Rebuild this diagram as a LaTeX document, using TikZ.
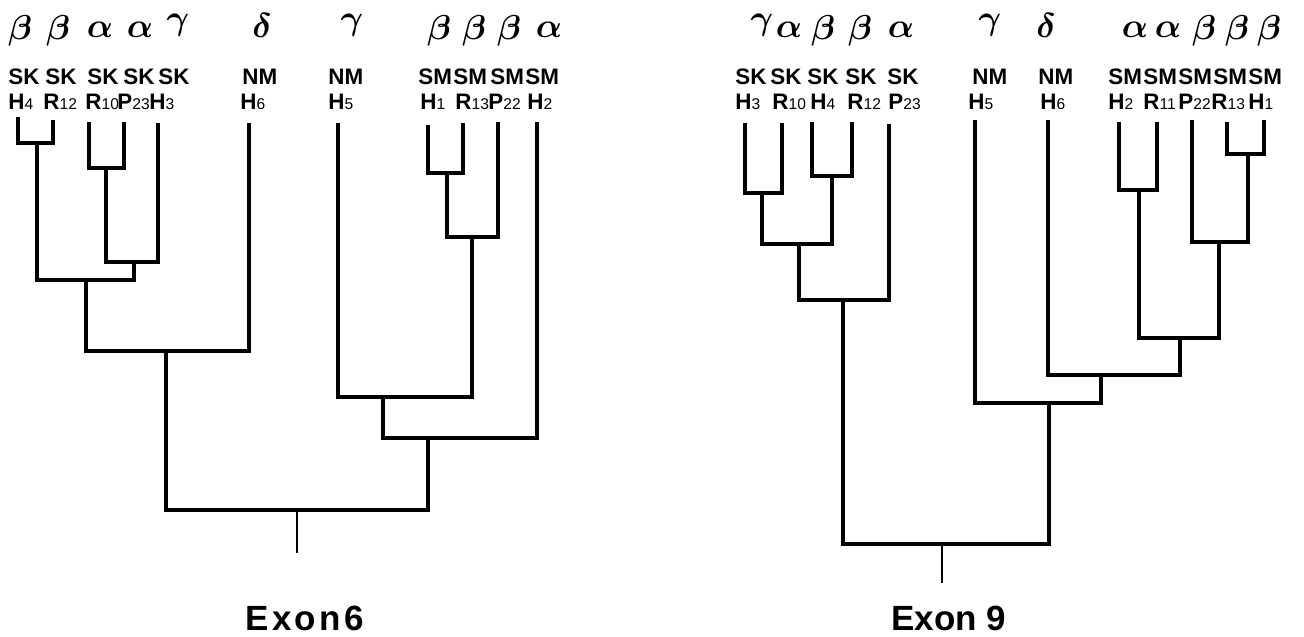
\documentclass[tikz,border=0pt]{standalone}
\usepackage{fontspec}
\setmainfont{Liberation Sans}

% Greek class letters above the leaves
\newcommand\grA{$\alpha$}
\newcommand\grB{\raisebox{-1pt}{$\beta$}}
\newcommand\grG{\raisebox{4pt}{$\gamma$}}
\newcommand\grD{$\delta$}
% clone identifier: bold letter with a small plain number
\newcommand\lab[2]{#1{\fontsize{7.8}{8}\selectfont\mdseries #2}}

% one leaf: name, x, top of leaf line, greek, greek x, group, group x, id, id x
\newcommand\mleaf[9]{%
  \coordinate (#1) at (#2,#3);
  \node[greek] (#1-g) at (#5,38) {#4};
  \node[grp] (#1-s) at (#7,85) {#6};
  \node[grp] (#1-i) at (#9,110) {#8};
}

\begin{document}
\begin{tikzpicture}[x=0.5pt,y=-0.5pt,
  greek/.style={anchor=base,inner sep=0pt,font=\fontsize{18}{18}\selectfont\boldmath},
  grp/.style={anchor=base west,inner sep=0pt,font=\fontsize{11.2}{12}\selectfont\bfseries},
  exon/.style={anchor=base,inner sep=0pt,font=\fontsize{17.5}{18}\selectfont\bfseries},
  tree/.style={line width=1.7pt},
  stem/.style={line width=1.3pt}]
\useasboundingbox (0,0) rectangle (1304,636);

% ---------------- Exon 6 ----------------
\mleaf{a-H4}{18}{117}{\grB}{20}{SK}{8}{\lab{H}{4}}{8}
\mleaf{a-R12}{53}{120}{\grB}{58}{SK}{45}{\lab{R}{12}}{43}
\mleaf{a-R10}{89}{122}{\grA}{100}{SK}{87}{\lab{R}{10}}{85}
\mleaf{a-P23}{124}{122}{\grA}{140}{SK}{123}{\lab{P}{23}}{117}
\mleaf{a-H3}{158}{123}{\grG}{178}{SK}{158}{\lab{H}{3}}{149}
\mleaf{a-H6}{249}{123}{\grD}{262}{NM}{242}{\lab{H}{6}}{240}
\mleaf{a-H5}{338}{123}{\grG}{352}{NM}{328}{\lab{H}{5}}{328}
\mleaf{a-H1}{428}{125}{\grB}{439}{SM}{418}{\lab{H}{1}}{420}
\mleaf{a-R13}{463}{123}{\grB}{474}{SM}{453}{\lab{R}{13}}{455}
\mleaf{a-P22}{498}{122}{\grB}{509}{SM}{490}{\lab{P}{22}}{488}
\mleaf{a-H2}{537}{122}{\grA}{549}{SM}{525}{\lab{H}{2}}{527}

\coordinate (a-j1) at (37,143);
\coordinate (a-j2) at (106,168);
\coordinate (a-j3) at (134,262);
\coordinate (a-j4) at (86,280);
\coordinate (a-j5) at (166,351);
\coordinate (a-j6) at (447,173);
\coordinate (a-j7) at (472,237);
\coordinate (a-j8) at (383,397);
\coordinate (a-j9) at (428,438);
\coordinate (a-root) at (297,510);
\coordinate (a-stub) at (297,553);

\draw[tree] (a-H4) |- (a-j1) -| (a-R12);
\draw[tree] (a-R10) |- (a-j2) -| (a-P23);
\draw[tree] (a-j2) |- (a-j3) -| (a-H3);
\draw[tree] (a-j1) |- (a-j4) -| (a-j3);
\draw[tree] (a-j4) |- (a-j5) -| (a-H6);
\draw[tree] (a-H1) |- (a-j6) -| (a-R13);
\draw[tree] (a-j6) |- (a-j7) -| (a-P22);
\draw[tree] (a-H5) |- (a-j8) -| (a-j7);
\draw[tree] (a-j8) |- (a-j9) -| (a-H2);
\draw[tree] (a-j5) |- (a-root) -| (a-j9);
\draw[stem] (a-root) -- (a-stub);

\node[exon] (t6) at (305,630) {E\kern1.5pt x\kern1.5pt o\kern1.5pt n\kern2pt 6};

% ---------------- Exon 9 ----------------
\mleaf{b-H3}{745}{123}{\grG}{762}{SK}{735}{\lab{H}{3}}{735}
\mleaf{b-R10}{782}{123}{\grA}{789}{SK}{770}{\lab{R}{10}}{772}
\mleaf{b-H4}{812}{122}{\grB}{823}{SK}{807}{\lab{H}{4}}{810}
\mleaf{b-R12}{852}{122}{\grB}{860}{SK}{845}{\lab{R}{12}}{847}
\mleaf{b-P23}{889}{124}{\grA}{901}{SK}{887}{\lab{P}{23}}{888}
\mleaf{b-H5}{975}{120}{\grG}{990}{NM}{972}{\lab{H}{5}}{968}
\mleaf{b-H6}{1048}{120}{\grD}{1046}{NM}{1038}{\lab{H}{6}}{1040}
\mleaf{b-H2}{1119}{122}{\grA}{1135}{SM}{1108}{\lab{H}{2}}{1108}
\mleaf{b-R11}{1157}{122}{\grA}{1168}{SM}{1143}{\lab{R}{11}}{1143}
\mleaf{b-P22}{1192}{120}{\grB}{1204}{SM}{1178}{\lab{P}{22}}{1178}
\mleaf{b-R13}{1227}{122}{\grB}{1237}{SM}{1213}{\lab{R}{13}}{1211}
\mleaf{b-H1}{1264}{120}{\grB}{1269}{SM}{1248}{\lab{H}{1}}{1248}

\coordinate (b-j1) at (762,193);
\coordinate (b-j2) at (832,176);
\coordinate (b-j3) at (799,244);
\coordinate (b-j4) at (843,300);
\coordinate (b-j5) at (1139,190);
\coordinate (b-j6) at (1248,154);
\coordinate (b-j7) at (1219,242);
\coordinate (b-j8) at (1180,338);
\coordinate (b-j9) at (1101,375);
\coordinate (b-j10) at (1049,403);
\coordinate (b-root) at (942,544);
\coordinate (b-stub) at (942,583);

\draw[tree] (b-H3) |- (b-j1) -| (b-R10);
\draw[tree] (b-H4) |- (b-j2) -| (b-R12);
\draw[tree] (b-j1) |- (b-j3) -| (b-j2);
\draw[tree] (b-j3) |- (b-j4) -| (b-P23);
\draw[tree] (b-H2) |- (b-j5) -| (b-R11);
\draw[tree] (b-R13) |- (b-j6) -| (b-H1);
\draw[tree] (b-P22) |- (b-j7) -| (b-j6);
\draw[tree] (b-j5) |- (b-j8) -| (b-j7);
\draw[tree] (b-H6) |- (b-j9) -| (b-j8);
\draw[tree] (b-H5) |- (b-j10) -| (b-j9);
\draw[tree] (b-j4) |- (b-root) -| (b-j10);
\draw[stem] (b-root) -- (b-stub);

\node[exon] (t9) at (949,630) {Exon 9};
\end{tikzpicture}
\end{document}
